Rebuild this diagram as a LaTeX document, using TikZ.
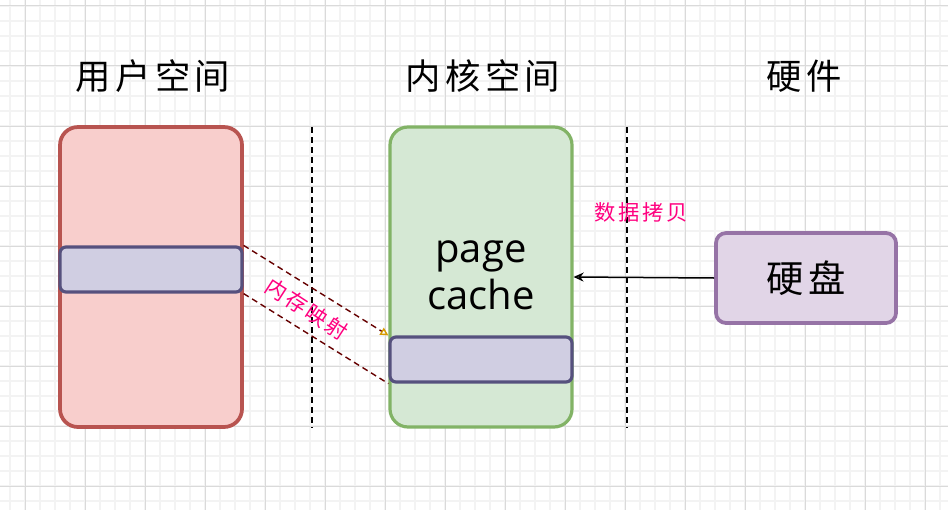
\documentclass[tikz,border=0pt]{standalone}
\usepackage{fontspec}
\usetikzlibrary{arrows.meta}
\newfontfamily\cjkwide{Noto Sans CJK SC}[LetterSpace=12]
\newfontfamily\cjkmid{Noto Sans CJK SC}[LetterSpace=12]
\newfontfamily\pcfont{Open Sans}
\definecolor{gridmajor}{HTML}{DADADA}
\definecolor{gridminor}{HTML}{F3F3F3}
\definecolor{redfill}{HTML}{F8CECC}
\definecolor{redline}{HTML}{B85450}
\definecolor{greenfill}{HTML}{D5E8D4}
\definecolor{greenline}{HTML}{82B366}
\definecolor{bluefill}{HTML}{D0CEE2}
\definecolor{blueline}{HTML}{56517E}
\definecolor{purplefill}{HTML}{E1D5E7}
\definecolor{purpleline}{HTML}{9673A6}
\definecolor{mapline}{HTML}{660000}
\definecolor{maptip}{HTML}{D79B00}
\definecolor{pinktext}{HTML}{FF0080}
\tikzset{
  gridminorline/.style={gridminor, line width=1.125pt},
  gridmajorline/.style={gridmajor, line width=0.75pt},
  title/.style={font=\cjkwide\fontsize{26.5pt}{30pt}\selectfont, text=black, inner sep=0pt},
  bigbox/.style={rectangle, rounded corners=13.5pt, minimum width=136.5pt, minimum height=225pt, inner sep=0pt},
  bar/.style={rectangle, rounded corners=4.5pt, draw=blueline, fill=bluefill, line width=2.4pt, minimum width=136.5pt, minimum height=33.75pt, inner sep=0pt},
  divider/.style={black, line width=1.875pt, dash pattern=on 4.5pt off 3pt},
  mapping/.style={mapline, line width=1.05pt, dash pattern=on 4.5pt off 3pt},
  pinklabel/.style={text=pinktext, font=\cjkmid\fontsize{16pt}{18pt}\selectfont, inner sep=0pt}
}
\begin{document}
\begin{tikzpicture}[x=0.75pt,y=-0.75pt]
\useasboundingbox (0,0) rectangle (948,510);
\fill[white] (0,0) rectangle (948,510);
% grid
\foreach \x in {10,25,...,940} \draw[gridminorline] (\x,0) -- (\x,510);
\foreach \y in {6,21,...,510} \draw[gridminorline] (0,\y) -- (948,\y);
\foreach \x in {25,85,...,940} \draw[gridmajorline] (\x,0) -- (\x,510);
\foreach \y in {6,66,...,510} \draw[gridmajorline] (0,\y) -- (948,\y);

% titles
\node[title] (t1) at (153,76) {用户空间};
\node[title] (t2) at (483,76) {内核空间};
\node[title] (t3) at (804,76) {硬件};

% dividers
\draw[divider] (312,127) -- (312,428);
\draw[divider] (627,127) -- (627,428);

% boxes
\node[bigbox, draw=redline, fill=redfill, line width=2.8pt] (user) at (151,277) {};
\node[bigbox, draw=greenline, fill=greenfill, line width=2.4pt] (kernel) at (481,277) {};
\node[bar] (ubar) at (151,269.5) {};
\node[bar] (kbar) at (481,359.5) {};
\node[font=\pcfont\fontsize{30pt}{35pt}\selectfont, align=center, inner sep=0pt] (pc) at (481,275) {page\\cache};
\node[rectangle, rounded corners=7.5pt, draw=purpleline, fill=purplefill, line width=2.8pt, minimum width=135pt, minimum height=67.5pt, inner sep=0pt, font=\cjkwide\fontsize{28pt}{32pt}\selectfont] (disk) at (806,278) {硬盘};

% mapping lines
\draw[mapping, -{Triangle[open, color=maptip, length=6pt, width=6pt, line width=1.05pt]}] (ubar.north east) -- (kbar.north west);
\draw[mapping] (ubar.south east) -- (kbar.south west);
\node[pinklabel, rotate=-33] (maplabel) at (307,309) {内存映射};

% copy arrow
\draw[black, line width=1.125pt, -{Stealth[open, length=7.5pt, width=6.75pt]}] (disk.west) -- (kernel.east);
\node[pinklabel] (copylabel) at (641,212) {数据拷贝};
\end{tikzpicture}
\end{document}
